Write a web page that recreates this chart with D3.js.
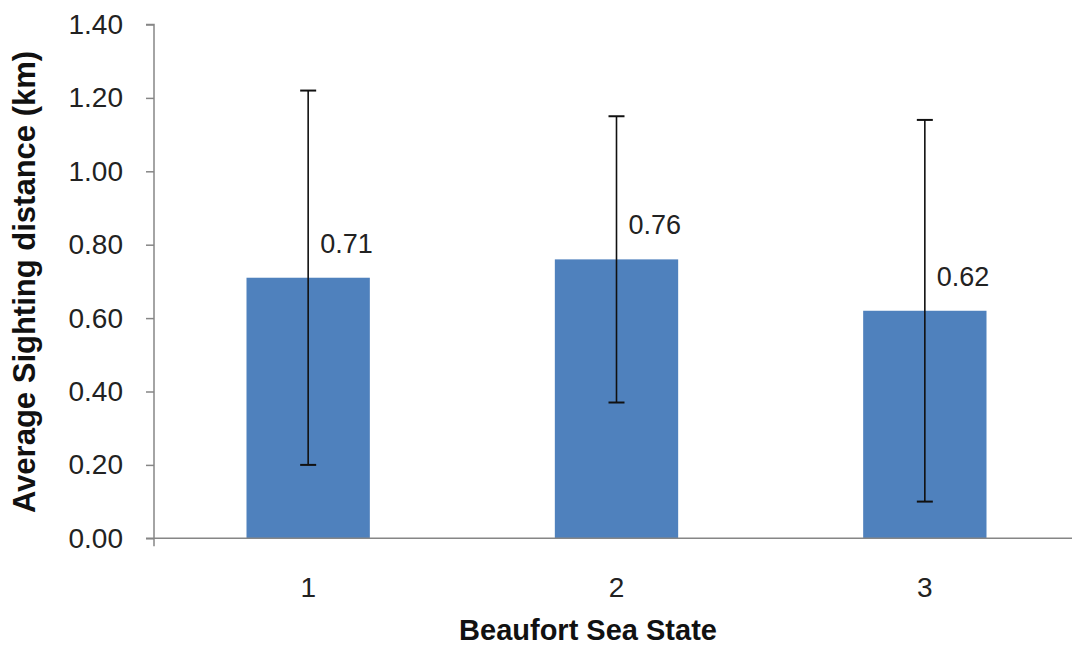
<!DOCTYPE html>
<html><head><meta charset="utf-8">
<script src="https://cdn.jsdelivr.net/npm/d3@7"></script>
<style>body{margin:0;background:#fff}svg{display:block}</style>
</head><body>
<svg id="c" width="1072" height="647"></svg>
<script>
const categories = ["1", "2", "3"];
const values = [0.71, 0.76, 0.62];
const errLow = [0.20, 0.37, 0.10];
const errHigh = [1.22, 1.15, 1.14];
const yTicks = [0, 0.2, 0.4, 0.6, 0.8, 1.0, 1.2, 1.4];
const xTitle = "Beaufort Sea State";
const yTitle = "Average Sighting distance (km)";

const svg = d3.select("#c");
const x0 = 154, x1 = 1079, yTop = 24.5, yBot = 538.3;
const x = d3.scaleBand().domain(categories).range([x0, x1]).paddingInner(0.6).paddingOuter(0.3);
const y = d3.scaleLinear().domain([0, 1.4]).range([yBot, yTop]);
const font = "Liberation Sans, Arial, sans-serif";

// bars
svg.selectAll("rect.bar").data(categories).join("rect")
  .attr("x", d => x(d)).attr("width", x.bandwidth())
  .attr("y", (d, i) => y(values[i])).attr("height", (d, i) => y(0) - y(values[i]))
  .attr("fill", "#4F81BD");

// y axis
const yAxis = d3.axisLeft(y).tickValues(yTicks).tickFormat(d3.format(".2f")).tickSize(8).tickPadding(23);
const gy = svg.append("g").attr("transform", `translate(${x0},0)`).call(yAxis);
gy.select(".domain").attr("stroke", "#868686").attr("stroke-width", 1.5).attr("d", `M-8,${yTop}H0V${yBot + 8}`);
gy.selectAll(".tick line").attr("stroke", "#868686").attr("stroke-width", 1.5);
gy.selectAll(".tick text").attr("font-family", font).attr("font-size", 28).attr("fill", "#222");

// x axis
const xAxis = d3.axisBottom(x).tickSize(0).tickPadding(0);
const gx = svg.append("g").attr("transform", `translate(0,${yBot})`).call(xAxis);
gx.select(".domain").attr("stroke", "#868686").attr("stroke-width", 1.5).attr("d", `M${x0 - 8},0H${x1}`);
gx.selectAll(".tick text").attr("font-family", font).attr("font-size", 28).attr("fill", "#222")
  .attr("dy", null).attr("y", 59);

// error bars
const eb = svg.append("g").attr("stroke", "#111").attr("stroke-width", 1.6);
categories.forEach((c, i) => {
  const cx = x(c) + x.bandwidth() / 2;
  eb.append("line").attr("x1", cx).attr("x2", cx).attr("y1", y(errLow[i])).attr("y2", y(errHigh[i]));
  eb.append("line").attr("x1", cx - 8).attr("x2", cx + 8).attr("y1", y(errLow[i])).attr("y2", y(errLow[i])).attr("stroke-width", 2);
  eb.append("line").attr("x1", cx - 8).attr("x2", cx + 8).attr("y1", y(errHigh[i])).attr("y2", y(errHigh[i])).attr("stroke-width", 2);
});

// data labels
svg.selectAll("text.lbl").data(categories).join("text")
  .attr("class", "lbl")
  .attr("x", d => x(d) + x.bandwidth() / 2 + 12)
  .attr("y", (d, i) => y(values[i]) - 25)
  .attr("font-family", font).attr("font-size", 27).attr("fill", "#222")
  .text((d, i) => d3.format(".2f")(values[i]));

// titles
svg.append("text").attr("x", 588).attr("y", 640).attr("text-anchor", "middle")
  .attr("font-family", font).attr("font-size", 29).attr("font-weight", "bold").attr("fill", "#111")
  .text(xTitle);
svg.append("text").attr("transform", "translate(35,282) rotate(-90)").attr("text-anchor", "middle")
  .attr("font-family", font).attr("font-size", 31).attr("font-weight", "bold").attr("fill", "#111")
  .text(yTitle);
</script>
</body></html>
